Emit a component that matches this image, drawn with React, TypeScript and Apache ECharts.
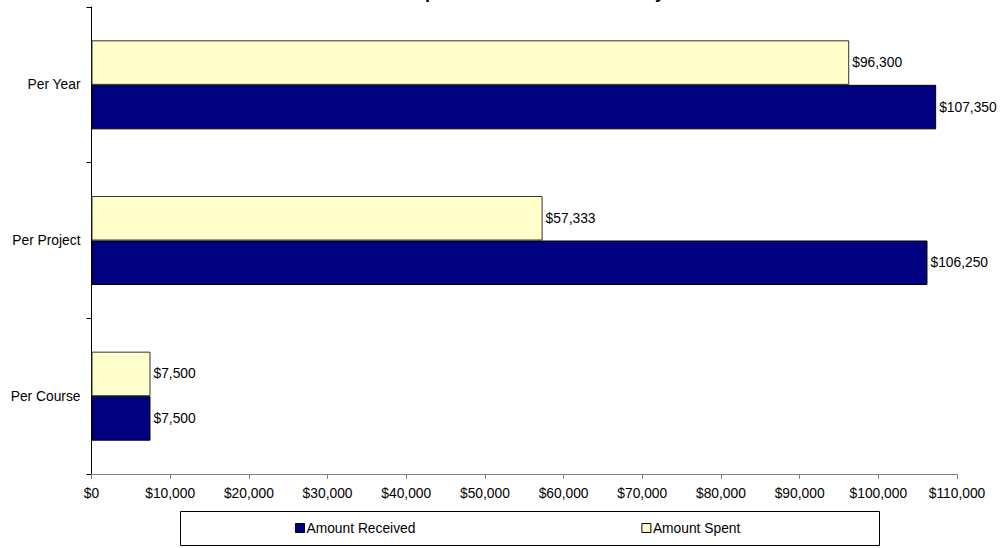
import React, { useEffect, useRef } from "react";
import * as echarts from "echarts";

const titleText = "Costs Compared to Funds Received by Level";
const categories = ["Per Course", "Per Project", "Per Year"];
const amountReceived = [7500, 106250, 107350];
const amountSpent = [7500, 57333, 96300];
const seriesNames = ["Amount Received", "Amount Spent"];
const xMin = 0;
const xMax = 110000;
const xStep = 10000;

const FONT = "'Liberation Sans', Arial, sans-serif";
const fmt = (v: number) => "$" + Math.round(v).toLocaleString("en-US");

export default function App() {
  const ref = useRef<HTMLDivElement>(null);
  useEffect(() => {
    if (!ref.current) return;
    const chart = echarts.init(ref.current, null, { renderer: "svg" });
    const label = {
      show: true,
      position: "right",
      distance: 3,
      formatter: (p: any) => fmt(p.value),
      fontSize: 13.8,
      fontFamily: FONT,
      color: "#000",
    };
    chart.setOption({
      animation: false,
      backgroundColor: "#fff",
      title: {
        text: titleText,
        left: 330,
        top: -17,
        padding: 0,
        textStyle: { fontSize: 18, fontWeight: "bold", fontFamily: FONT, color: "#000" },
      },
      grid: { left: 91.5, right: 44, top: 7, bottom: 74, containLabel: false },
      xAxis: {
        type: "value",
        min: xMin,
        max: xMax,
        interval: xStep,
        splitLine: { show: false },
        axisLine: { show: true, lineStyle: { color: "#808080", width: 1 } },
        axisTick: { show: true, length: 5, lineStyle: { color: "#808080" } },
        axisLabel: {
          formatter: (v: number) => fmt(v),
          fontSize: 13.8,
          fontFamily: FONT,
          color: "#000",
          margin: 12,
        },
      },
      yAxis: {
        type: "category",
        data: categories,
        axisLine: { show: true, lineStyle: { color: "#000", width: 1 } },
        axisTick: { show: true, length: 5, lineStyle: { color: "#000" } },
        axisLabel: { fontSize: 13.8, fontFamily: FONT, color: "#000", margin: 11 },
      },
      legend: {
        data: seriesNames,
        left: 295,
        top: 521,
        padding: 0,
        itemGap: 226,
        itemWidth: 9,
        itemHeight: 9,
        icon: "rect",
        itemStyle: { borderColor: "#000", borderWidth: 1 },
        textStyle: { fontSize: 13.8, fontFamily: FONT, color: "#000", padding: [0, 0, 0, -3] },
      },
      graphic: [
        {
          type: "rect",
          shape: { x: 180.5, y: 511.5, width: 699, height: 34 },
          style: { fill: "none", stroke: "#000", lineWidth: 1 },
          silent: true,
        },
      ],
      series: [
        {
          name: seriesNames[1],
          type: "bar",
          data: amountSpent,
          barGap: "0%",
          barCategoryGap: "42.8%",
          itemStyle: { color: "#FFFFCC", borderColor: "#333", borderWidth: 1 },
          label,
        },
        {
          name: seriesNames[0],
          type: "bar",
          data: amountReceived,
          barGap: "0%",
          barCategoryGap: "42.8%",
          itemStyle: { color: "#000080", borderColor: "#000", borderWidth: 1 },
          label,
        },
      ],
    });
    return () => chart.dispose();
  }, []);
  return <div ref={ref} style={{ width: 1001, height: 548, position: "absolute", left: 0, top: 0 }} />;
}
